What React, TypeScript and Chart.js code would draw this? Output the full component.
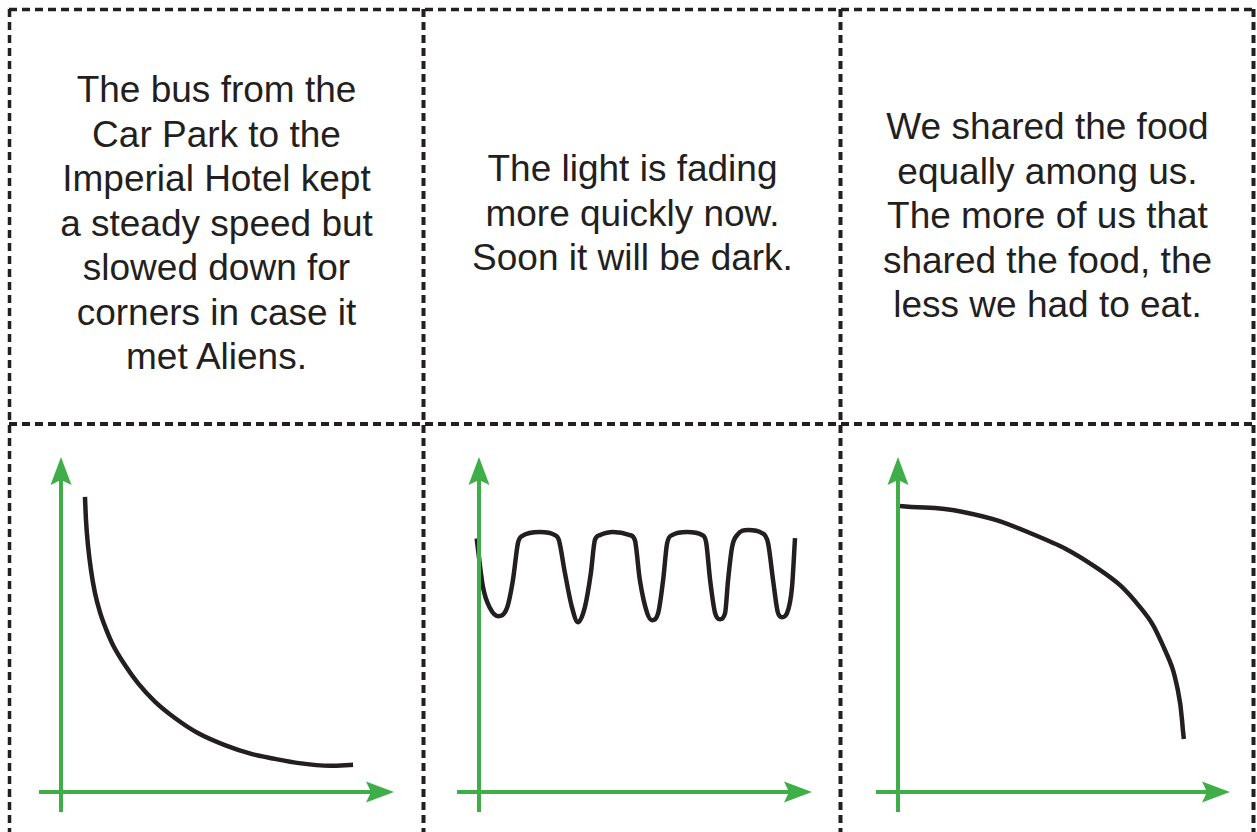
import React, { useEffect, useRef } from "react";
import { Chart, registerables } from "chart.js";

Chart.register(...registerables);

const INK = "#231f20";
const GREEN = "#3fae49";

// Card texts (top row)
const busText = [
  "The bus from the",
  "Car Park to the",
  "Imperial Hotel kept",
  "a steady speed but",
  "slowed down for",
  "corners in case it",
  "met Aliens.",
];
const lightText = ["The light is fading", "more quickly now.", "Soon it will be dark."];
const foodText = [
  "We shared the food",
  "equally among us.",
  "The more of us that",
  "shared the food, the",
  "less we had to eat.",
];

// Graph 1 (bottom left): decreasing curve flattening out
const busX = [
  0.72, 0.75, 0.81, 0.9, 1.02, 1.17, 1.35, 1.56, 1.92, 2.31, 2.82, 3.42, 4.11, 4.92, 5.74, 6.43,
  7.09, 8.08, 8.77,
];
const busY = [
  8.81, 8.12, 7.37, 6.63, 5.94, 5.37, 4.87, 4.39, 3.79, 3.25, 2.7, 2.21, 1.76, 1.4, 1.13, 0.99,
  0.87, 0.78, 0.81,
];

// Graph 2 (bottom middle): oscillating wave
const lightX = [
  -0.07, 0.12, 0.33, 0.57, 0.84, 1.02, 1.17, 1.29, 1.83, 2.28, 2.4, 2.58, 2.79, 2.97, 3.18, 3.36,
  3.48, 3.63, 4.02, 4.53, 4.68, 4.83, 5.05, 5.2, 5.38, 5.53, 5.65, 5.8, 6.25, 6.7, 6.82, 6.94,
  7.09, 7.24, 7.39, 7.48, 7.6, 7.75, 8.08, 8.5, 8.68, 8.83, 8.98, 9.1, 9.25, 9.4, 9.49,
];
const lightY = [
  7.57, 6.12, 5.49, 5.25, 5.49, 6.33, 7.43, 7.64, 7.76, 7.67, 7.52, 6.54, 5.52, 5.07, 5.52, 6.54,
  7.52, 7.67, 7.76, 7.67, 7.52, 6.33, 5.34, 5.13, 5.34, 6.33, 7.43, 7.67, 7.76, 7.67, 7.46, 6.33,
  5.34, 5.16, 5.34, 6.33, 7.31, 7.67, 7.82, 7.73, 7.43, 6.33, 5.34, 5.22, 5.34, 6.12, 7.58,
];

// Graph 3 (bottom right): curve falling ever faster
const foodX = [0.06, 1.96, 3.98, 5.99, 7.29, 8.04, 8.43, 8.61];
const foodY = [8.54, 8.36, 7.73, 6.69, 5.52, 4.24, 3.04, 1.58];

const arrowAxes = {
  id: "arrowAxes",
  afterDatasetsDraw(chart: any) {
    const { ctx, chartArea } = chart;
    const { left, right, top, bottom } = chartArea;
    ctx.save();
    ctx.strokeStyle = GREEN;
    ctx.fillStyle = GREEN;
    ctx.lineWidth = 4;
    ctx.lineCap = "butt";
    // y axis
    ctx.beginPath();
    ctx.moveTo(left, bottom + 20);
    ctx.lineTo(left, top + 20);
    ctx.stroke();
    ctx.beginPath();
    ctx.moveTo(left, top);
    ctx.lineTo(left + 10.5, top + 28);
    ctx.lineTo(left, top + 23);
    ctx.lineTo(left - 10.5, top + 28);
    ctx.closePath();
    ctx.fill();
    // x axis
    ctx.beginPath();
    ctx.moveTo(left - 22, bottom);
    ctx.lineTo(right - 20, bottom);
    ctx.stroke();
    ctx.beginPath();
    ctx.moveTo(right, bottom);
    ctx.lineTo(right - 28, bottom - 10.5);
    ctx.lineTo(right - 23, bottom);
    ctx.lineTo(right - 28, bottom + 10.5);
    ctx.closePath();
    ctx.fill();
    ctx.restore();
  },
};

function Graph({
  xs,
  ys,
  left,
  width,
  smooth,
}: {
  xs: number[];
  ys: number[];
  left: number;
  width: number;
  smooth: "monotone" | "tension";
}) {
  const ref = useRef<HTMLCanvasElement | null>(null);
  useEffect(() => {
    if (!ref.current) return;
    const chart = new Chart(ref.current, {
      type: "line",
      data: {
        datasets: [
          {
            data: xs.map((x, i) => ({ x, y: ys[i] })),
            borderColor: INK,
            borderWidth: 4.5,
            pointRadius: 0,
            fill: false,
            cubicInterpolationMode: smooth === "monotone" ? "monotone" : "default",
            tension: smooth === "monotone" ? 0 : 0.45,
            clip: false,
          } as any,
        ],
      },
      options: {
        animation: false,
        responsive: false,
        maintainAspectRatio: false,
        devicePixelRatio: 1,
        layout: { padding: { left: 30, right: 10, top: 10, bottom: 30 } },
        plugins: { legend: { display: false }, tooltip: { enabled: false } },
        events: [],
        scales: {
          x: { type: "linear", min: 0, max: 10, display: false },
          y: { type: "linear", min: 0, max: 10, display: false },
        },
      },
      plugins: [arrowAxes],
    });
    return () => chart.destroy();
  }, []);
  return (
    <canvas
      ref={ref}
      width={width}
      height={375}
      style={{ position: "absolute", left, top: 447, width, height: 375 }}
    />
  );
}

function Card({ lines, left, width, top }: { lines: string[]; left: number; width: number; top: number }) {
  return (
    <div
      style={{
        position: "absolute",
        left,
        top,
        width,
        textAlign: "center",
        fontFamily: "'Liberation Sans', Arial, sans-serif",
        fontSize: 37,
        lineHeight: "44.5px",
        color: INK,
      }}
    >
      {lines.map((l, i) => (
        <div key={i}>{l}</div>
      ))}
    </div>
  );
}

export default function App() {
  const dash = { stroke: INK, strokeWidth: 4, strokeDasharray: "8 5", fill: "none" };
  return (
    <div
      style={{
        position: "fixed",
        left: 0,
        top: 0,
        width: 1257,
        height: 832,
        background: "#fff",
        overflow: "hidden",
      }}
    >
      <svg width={1257} height={832} style={{ position: "absolute", left: 0, top: 0 }}>
        <line x1={9} y1={9.5} x2={1254} y2={9.5} {...dash} strokeWidth={3.5} />
        <line x1={9} y1={424} x2={1254} y2={424} {...dash} />
        <line x1={9.5} y1={9} x2={9.5} y2={832} {...dash} strokeWidth={3.5} />
        <line x1={423.5} y1={9} x2={423.5} y2={832} {...dash} />
        <line x1={840.5} y1={9} x2={840.5} y2={832} {...dash} />
        <line x1={1253.5} y1={9} x2={1253.5} y2={832} {...dash} />
      </svg>
      <Card lines={busText} left={9} width={415} top={68} />
      <Card lines={lightText} left={424} width={417} top={147} />
      <Card lines={foodText} left={841} width={413} top={105} />
      <Graph xs={busX} ys={busY} left={31} width={373} smooth="monotone" />
      <Graph xs={lightX} ys={lightY} left={449} width={373} smooth="monotone" />
      <Graph xs={foodX} ys={foodY} left={868} width={372} smooth="tension" />
    </div>
  );
}
